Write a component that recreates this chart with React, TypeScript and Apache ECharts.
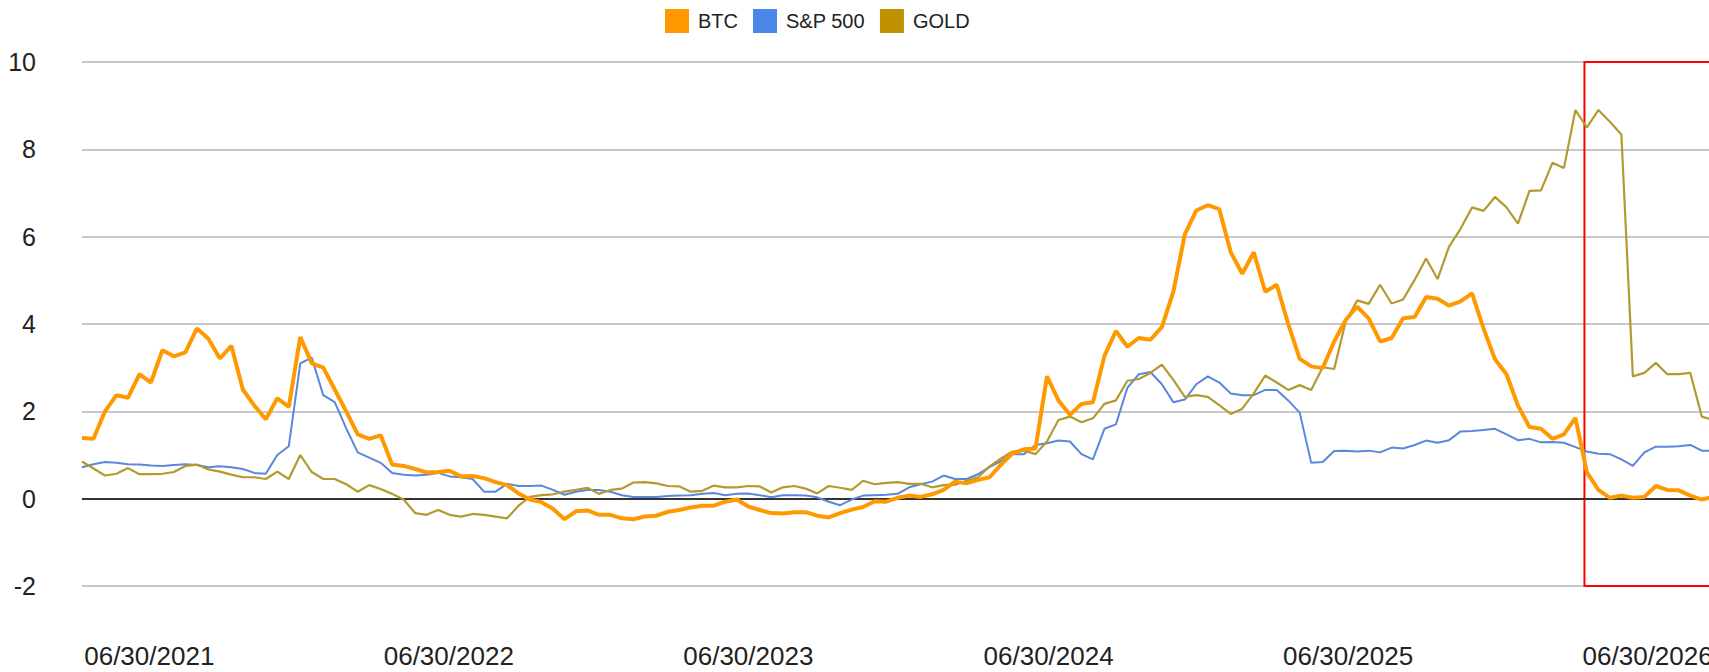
import { useEffect, useRef } from 'react';
import * as echarts from 'echarts';

// ---- data ----
const SERIES_NAMES = ['BTC', 'S&P 500', 'GOLD'];
const START_DATE = '2021-04-09';
const STEP_DAYS = 14;

const btc = [
  1.39, 1.37, 2.0, 2.37, 2.31, 2.85, 2.66, 3.4, 3.26, 3.35,
  3.9, 3.66, 3.21, 3.5, 2.5, 2.13, 1.82, 2.3, 2.1, 3.7,
  3.1, 3.0, 2.5, 2.0, 1.47, 1.37, 1.45, 0.78, 0.75, 0.68,
  0.6, 0.61, 0.64, 0.51, 0.52, 0.47, 0.38, 0.31, 0.12, -0.02,
  -0.08, -0.23, -0.47, -0.29, -0.27, -0.37, -0.37, -0.45, -0.47, -0.41,
  -0.39, -0.3, -0.26, -0.2, -0.16, -0.16, -0.07, -0.02, -0.18, -0.26,
  -0.33, -0.34, -0.31, -0.31, -0.39, -0.43, -0.33, -0.25, -0.19, -0.06,
  -0.07, 0.02, 0.07, 0.04, 0.1, 0.2, 0.39, 0.35, 0.43, 0.49,
  0.78, 1.04, 1.13, 1.15, 2.8, 2.25, 1.92, 2.17, 2.21, 3.27,
  3.84, 3.48, 3.68, 3.64, 3.93, 4.74, 6.05, 6.6, 6.72, 6.63,
  5.64, 5.15, 5.64, 4.74, 4.9, 4.0, 3.2, 3.03, 2.99, 3.6,
  4.09, 4.4, 4.13, 3.6, 3.68, 4.13, 4.16, 4.62, 4.58, 4.42,
  4.52, 4.7, 3.9, 3.19, 2.85, 2.13, 1.64, 1.6, 1.37, 1.47,
  1.85, 0.6, 0.2, 0.02, 0.07, 0.02, 0.04, 0.29, 0.2, 0.19,
  0.07, -0.02, 0.04,
];

const sp500 = [
  0.72, 0.79, 0.84, 0.82, 0.79, 0.78, 0.76, 0.75, 0.77, 0.79,
  0.77, 0.72, 0.74, 0.72, 0.68, 0.59, 0.57, 1.0, 1.2, 3.1,
  3.23, 2.37, 2.21, 1.61, 1.06, 0.94, 0.82, 0.59, 0.55, 0.53,
  0.55, 0.59, 0.51, 0.49, 0.45, 0.16, 0.16, 0.34, 0.29, 0.29,
  0.3, 0.2, 0.09, 0.16, 0.2, 0.2, 0.16, 0.08, 0.04, 0.04,
  0.04, 0.06, 0.07, 0.08, 0.11, 0.13, 0.08, 0.11, 0.12, 0.08,
  0.03, 0.08, 0.08, 0.07, 0.03, -0.07, -0.15, -0.02, 0.07, 0.08,
  0.09, 0.11, 0.26, 0.33, 0.39, 0.53, 0.45, 0.45, 0.56, 0.72,
  0.86, 1.02, 1.02, 1.23, 1.27, 1.33, 1.31, 1.02, 0.9, 1.6,
  1.7, 2.54, 2.85, 2.9, 2.62, 2.21, 2.27, 2.62, 2.8, 2.66,
  2.41, 2.37, 2.37, 2.49, 2.49, 2.25, 1.97, 0.82, 0.84, 1.09,
  1.1, 1.08, 1.1, 1.06, 1.17, 1.15, 1.23, 1.33, 1.28, 1.34,
  1.54, 1.55, 1.57, 1.6, 1.47, 1.34, 1.37, 1.29, 1.3, 1.28,
  1.18, 1.08, 1.03, 1.02, 0.9, 0.75, 1.06, 1.19, 1.19, 1.2,
  1.23, 1.1, 1.1,
];

const gold = [
  0.85, 0.69, 0.53, 0.57, 0.7, 0.56, 0.56, 0.57, 0.61, 0.75,
  0.78, 0.67, 0.62, 0.55, 0.49, 0.49, 0.45, 0.62, 0.45, 1.0,
  0.61, 0.45, 0.45, 0.33, 0.16, 0.31, 0.22, 0.11, -0.02, -0.33,
  -0.37, -0.26, -0.37, -0.41, -0.35, -0.37, -0.41, -0.45, -0.16, 0.04,
  0.08, 0.1, 0.16, 0.2, 0.25, 0.11, 0.2, 0.23, 0.37, 0.38,
  0.35, 0.29, 0.28, 0.16, 0.18, 0.3, 0.26, 0.26, 0.29, 0.28,
  0.14, 0.26, 0.29, 0.23, 0.12, 0.29, 0.25, 0.2, 0.41, 0.33,
  0.36, 0.38, 0.34, 0.34, 0.26, 0.31, 0.32, 0.41, 0.49, 0.74,
  0.92, 1.08, 1.1, 1.02, 1.31, 1.8, 1.88, 1.75, 1.84, 2.17,
  2.25, 2.7, 2.74, 2.88, 3.07, 2.72, 2.33, 2.37, 2.33, 2.14,
  1.94, 2.06, 2.41, 2.82, 2.66, 2.49, 2.6, 2.49, 3.01, 2.97,
  4.05, 4.54, 4.46, 4.9, 4.47, 4.56, 5.01, 5.5, 5.03, 5.77,
  6.18, 6.67, 6.59, 6.91, 6.67, 6.3, 7.05, 7.06, 7.69, 7.57,
  8.9, 8.5, 8.9, 8.63, 8.34, 2.8, 2.88, 3.11, 2.85, 2.85,
  2.88, 1.88, 1.8,
];

const xTickDates = ['2021-06-30', '2022-06-30', '2023-06-30', '2024-06-30', '2025-06-30', '2026-06-30'];
const AXIS_START = '2021-04-09';
const AXIS_END = '2026-12-01';
const HIGHLIGHT_START = '2026-04-14';
const Y_MIN = -2;
const Y_MAX = 10;
const Y_STEP = 2;

const COLORS = ['#ff9900', '#4a86e8', '#bf9000'];
const LINE_COLORS = ['#ff9900', '#5a87dc', '#b39a30'];
const LINE_WIDTHS = [4, 2, 2.2];

const FONT = 'Arial, "Liberation Sans", sans-serif';

const pad = (n: number) => (n < 10 ? '0' + n : '' + n);
const fmtDate = (v: number) => {
  const d = new Date(v);
  return `${pad(d.getUTCMonth() + 1)}/${pad(d.getUTCDate())}/${d.getUTCFullYear()}`;
};

export default function App() {
  const ref = useRef<HTMLDivElement>(null);

  useEffect(() => {
    if (!ref.current) return;
    document.body.style.margin = '0';
    document.documentElement.style.overflow = 'hidden';
    const chart = echarts.init(ref.current, undefined, { renderer: 'svg' });

    const start = Date.parse(START_DATE);
    const step = STEP_DAYS * 86400000;
    const toPairs = (vals: number[]) => vals.map((v, i) => [start + i * step, v]);
    const valueSets = [btc, sp500, gold];

    const series: any[] = valueSets.map((vals, k) => ({
      name: SERIES_NAMES[k],
      type: 'line',
      data: toPairs(vals),
      showSymbol: false,
      symbol: 'none',
      color: COLORS[k],
      lineStyle: { color: LINE_COLORS[k], width: LINE_WIDTHS[k] },
      z: k === 0 ? 5 : 3,
      emphasis: { disabled: true },
    }));

    // zero line
    series[1].markLine = {
      silent: true,
      symbol: 'none',
      label: { show: false },
      lineStyle: { color: '#333', width: 2, type: 'solid' },
      data: [{ yAxis: 0 }],
      z: 2,
    };
    // red highlight box
    series[0].markArea = {
      silent: true,
      itemStyle: { color: 'rgba(0,0,0,0)', borderColor: '#ff0000', borderWidth: 2 },
      data: [[
        { xAxis: Date.parse(HIGHLIGHT_START), yAxis: Y_MAX },
        { xAxis: Date.parse(AXIS_END), yAxis: Y_MIN },
      ]],
    };

    chart.setOption({
      animation: false,
      backgroundColor: '#ffffff',
      legend: {
        data: SERIES_NAMES.map((n) => ({ name: n, icon: 'rect' })),
        left: 660,
        top: 4,
        itemWidth: 24,
        itemHeight: 24,
        itemGap: 15,
        textStyle: { fontSize: 20, color: '#222', fontFamily: FONT, padding: [0, 0, 0, 4] },
      },
      grid: { left: 82, top: 62, right: 26, bottom: 86 },
      xAxis: {
        type: 'value',
        min: Date.parse(AXIS_START),
        max: Date.parse(AXIS_END),
        axisLine: { show: false },
        axisTick: { show: false },
        splitLine: { show: false },
        axisLabel: {
          customValues: xTickDates.map((d) => Date.parse(d)),
          formatter: (v: number) => fmtDate(v),
          fontSize: 26,
          lineHeight: 26,
          color: '#222',
          fontFamily: FONT,
          margin: 57,
          hideOverlap: false,
        },
      },
      yAxis: {
        type: 'value',
        min: Y_MIN,
        max: Y_MAX,
        interval: Y_STEP,
        axisLine: { show: false },
        axisTick: { show: false },
        axisLabel: { fontSize: 25, color: '#222', fontFamily: FONT, margin: 46 },
        splitLine: { lineStyle: { color: '#c8c8c8', width: 2 } },
      },
      series,
    });

    return () => chart.dispose();
  }, []);

  return (
    <div
      ref={ref}
      style={{ position: 'fixed', left: 0, top: 0, width: 1800, height: 672 }}
    />
  );
}
